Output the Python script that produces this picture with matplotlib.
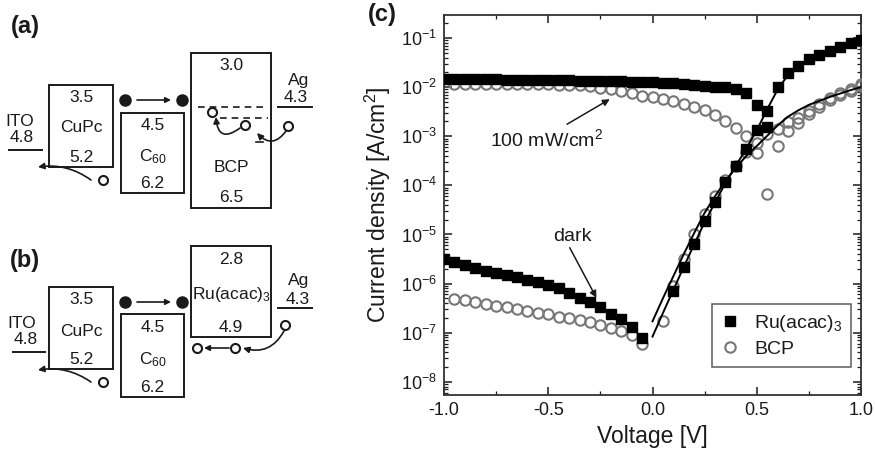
import numpy as np
import matplotlib
matplotlib.use("Agg")
import matplotlib.pyplot as plt
from matplotlib.patches import Rectangle, FancyArrowPatch
from matplotlib.lines import Line2D
from matplotlib.ticker import FixedLocator, NullFormatter

plt.rcParams['font.family'] = ['Liberation Sans', 'DejaVu Sans']
plt.rcParams['mathtext.fontset'] = 'custom'
plt.rcParams['mathtext.rm'] = 'Liberation Sans'
plt.rcParams['mathtext.it'] = 'Liberation Sans:italic'
plt.rcParams['mathtext.bf'] = 'Liberation Sans:bold'

# ---------------- data: panel (c) ----------------
# voltages (V) and log10 of current density (A/cm^2)
v_ru_light = [-1.00, -0.95, -0.90, -0.85, -0.80, -0.75, -0.70, -0.65, -0.60, -0.55,
              -0.50, -0.45, -0.40, -0.35, -0.30, -0.25, -0.20, -0.15, -0.10, -0.05,
              0.00, 0.05, 0.10, 0.15, 0.20, 0.25, 0.30, 0.35, 0.40, 0.45,
              0.50, 0.55, 0.60, 0.65, 0.70, 0.75, 0.80, 0.85, 0.90, 0.95, 1.00]
logj_ru_light = [-1.84, -1.84, -1.84, -1.84, -1.84, -1.84, -1.85, -1.85, -1.85, -1.85,
                 -1.86, -1.86, -1.86, -1.87, -1.87, -1.87, -1.88, -1.88, -1.89, -1.89,
                 -1.90, -1.91, -1.92, -1.94, -1.96, -1.97, -1.99, -2.00, -2.04, -2.12,
                 -2.36, -2.48, -1.99, -1.71, -1.56, -1.43, -1.35, -1.26, -1.18, -1.10, -1.04]

v_ru_dark = [-1.00, -0.95, -0.90, -0.85, -0.80, -0.75, -0.70, -0.65, -0.60, -0.55,
             -0.50, -0.45, -0.40, -0.35, -0.30, -0.25, -0.20, -0.15, -0.10, -0.05,
             0.10, 0.15, 0.20, 0.25, 0.30, 0.35, 0.40, 0.45, 0.50, 0.55]
logj_ru_dark = [-5.51, -5.57, -5.63, -5.69, -5.74, -5.78, -5.82, -5.86, -5.92, -5.97,
                -6.02, -6.10, -6.20, -6.29, -6.37, -6.48, -6.61, -6.72, -6.88, -7.11,
                -6.16, -5.67, -5.20, -4.72, -4.33, -3.94, -3.60, -3.25, -2.87, -2.81]

v_bcp_light = [-0.95, -0.90, -0.85, -0.80, -0.75, -0.70, -0.65, -0.60, -0.55,
               -0.50, -0.45, -0.40, -0.35, -0.30, -0.25, -0.20, -0.15, -0.10, -0.05,
               0.00, 0.05, 0.10, 0.15, 0.20, 0.25, 0.30, 0.35, 0.40, 0.45,
               0.50, 0.55, 0.60, 0.65, 0.70, 0.75, 0.80, 0.85, 0.90, 0.95, 1.00]
logj_bcp_light = [-1.94, -1.94, -1.94, -1.94, -1.94, -1.94, -1.94, -1.94, -1.94,
                  -1.94, -1.95, -1.95, -1.96, -1.98, -2.01, -2.04, -2.07, -2.11, -2.17,
                  -2.20, -2.24, -2.28, -2.34, -2.40, -2.47, -2.57, -2.69, -2.83, -3.00,
                  -3.13, -2.96, -2.86, -2.71, -2.62, -2.48, -2.35, -2.22, -2.12, -2.04, -1.94]

v_bcp_dark = [-0.95, -0.90, -0.85, -0.80, -0.75, -0.70, -0.65, -0.60, -0.55,
              -0.50, -0.45, -0.40, -0.35, -0.30, -0.25, -0.20, -0.15, -0.10, -0.05,
              0.05, 0.10, 0.15, 0.20, 0.25, 0.30, 0.35, 0.40, 0.45,
              0.50, 0.55, 0.60, 0.65, 0.70, 0.75, 0.80, 0.85, 0.90, 0.95, 1.00]
logj_bcp_dark = [-6.31, -6.33, -6.37, -6.41, -6.45, -6.48, -6.52, -6.56, -6.60,
                 -6.63, -6.68, -6.71, -6.74, -6.79, -6.85, -6.90, -6.97, -7.04, -7.24,
                 -6.76, -6.05, -5.51, -4.99, -4.59, -4.22, -3.89, -3.60, -3.32,
                 -3.35, -4.17, -3.20, -2.89, -2.72, -2.55, -2.40, -2.27, -2.16, -2.07, -1.98]

# fitted curves
v_fit = [0.00, 0.05, 0.10, 0.15, 0.20, 0.25, 0.30, 0.35, 0.40, 0.45, 0.50,
         0.55, 0.60, 0.65, 0.70, 0.75, 0.80, 0.85, 0.90, 0.95, 1.00]
logj_fit_ru = [-7.08, -6.60, -6.13, -5.66, -5.20, -4.75, -4.35, -3.95, -3.60, -3.25, -2.88,
               -2.45, -2.05, -1.75, -1.58, -1.45, -1.36, -1.27, -1.18, -1.10, -1.04]
logj_fit_bcp = [-6.77, -6.30, -5.85, -5.40, -4.97, -4.56, -4.22, -3.91, -3.64, -3.40, -3.20,
                -2.99, -2.78, -2.60, -2.47, -2.36, -2.28, -2.20, -2.13, -2.06, -2.00]

series_labels = ['Ru(acac)$_3$', 'BCP']
x_ticks = [-1.0, -0.5, 0.0, 0.5, 1.0]
x_ticklabels = ['-1.0', '-0.5', '0.0', '0.5', '1.0']
y_decades = [-8, -7, -6, -5, -4, -3, -2, -1]

# ---------------- data: panels (a), (b) ----------------
names_a = ['CuPc', 'C$_{60}$', 'BCP']
lumo_a = ['3.5', '4.5', '3.0']
homo_a = ['5.2', '6.2', '6.5']
names_b = ['CuPc', 'C$_{60}$', 'Ru(acac)$_3$']
lumo_b = ['3.5', '4.5', '2.8']
homo_b = ['5.2', '6.2', '4.9']
anode = ['ITO', '4.8']
cathode = ['Ag', '4.3']

# ---------------- figure ----------------
W, H = 875, 453
fig = plt.figure(figsize=(W / 100, H / 100), dpi=100)
ink = '#1a1a1a'
dfs = 12.5  # schematic font size

# overlay axis in pixel coordinates for the schematic panels
ax0 = fig.add_axes([0, 0, 1, 1])
ax0.set_xlim(0, W)
ax0.set_ylim(H, 0)
ax0.axis('off')

def box(x0, y0, x1, y1):
    ax0.add_patch(Rectangle((x0, y0), x1 - x0, y1 - y0, fill=False,
                            ec=ink, lw=1.4))

def txt(x, y, s, size=dfs, **kw):
    ax0.text(x, y, s, ha='center', va='center', fontsize=size, color=ink, **kw)

def arrow(p0, p1, rad=0.0, lw=1.2, ms=9):
    ax0.add_patch(FancyArrowPatch(p0, p1, arrowstyle='-|>', mutation_scale=ms,
                                  connectionstyle=f'arc3,rad={rad}', color=ink, lw=lw,
                                  shrinkA=0, shrinkB=0))

def hole(x, y):
    ax0.plot([x], [y], marker='o', ms=6.5, mfc='white', mec=ink, mew=1.5)

def electron(x, y):
    ax0.plot([x], [y], marker='o', ms=8, mfc=ink, mec=ink)

# ----- panel (a)
txt(25, 27, '(a)', size=17, fontweight='bold')
txt(20, 121, anode[0])
txt(22, 137, anode[1])
ax0.plot([9, 42], [150, 150], color=ink, lw=1.4)
box_a = [(49, 85, 113, 167), (121, 113, 184, 193), (191, 53, 271, 208)]
name_y_a = [128, 157, 167]
for (x0, y0, x1, y1), nm, lu, ho, ny in zip(box_a, names_a, lumo_a, homo_a, name_y_a):
    box(x0, y0, x1, y1)
    xc = (x0 + x1) / 2
    txt(xc, y0 + 13, lu)
    txt(xc, ny, nm)
    txt(xc, y1 - 10, ho)
electron(125, 100)
arrow((137, 100), (171, 100), ms=8)
electron(182, 100)
ax0.plot([198, 268], [107, 107], color=ink, lw=1.2, ls=(0, (4, 3)))
ax0.plot([220, 268], [118, 118], color=ink, lw=1.2, ls=(0, (4, 3)))
ax0.plot([256, 263], [142, 142], color=ink, lw=1.2)
hole(212, 112)
hole(245, 125)
arrow((240, 128), (216, 117), rad=-0.9)
hole(288, 126)
arrow((286, 131), (257, 133), rad=-0.6)
txt(299, 80, cathode[0])
txt(296, 97, cathode[1])
ax0.plot([278, 312], [107, 107], color=ink, lw=1.4)
hole(103, 180)
arrow((91, 180), (38, 167), rad=0.2)

# ----- panel (b)
txt(25, 260, '(b)', size=17, fontweight='bold')
txt(22, 324, anode[0])
txt(26, 340, anode[1])
ax0.plot([13, 45], [352, 352], color=ink, lw=1.4)
box_b = [(49, 287, 113, 369), (121, 314, 184, 397), (191, 246, 271, 337)]
name_y_b = [332, 360, 295]
for (x0, y0, x1, y1), nm, lu, ho, ny in zip(box_b, names_b, lumo_b, homo_b, name_y_b):
    box(x0, y0, x1, y1)
    xc = (x0 + x1) / 2
    txt(xc, y0 + 13, lu)
    txt(xc, ny, nm)
    txt(xc, y1 - 10, ho)
electron(125, 302)
arrow((137, 302), (171, 302), ms=8)
electron(182, 302)
txt(299, 280, cathode[0])
txt(298, 299, cathode[1])
ax0.plot([278, 312], [308, 308], color=ink, lw=1.4)
hole(285, 325)
arrow((284, 331), (243, 348), rad=-0.4)
hole(235, 348)
arrow((229, 348), (204, 348), ms=8)
hole(197, 348)
hole(103, 382)
arrow((91, 382), (38, 370), rad=0.2)

# ----- panel (c)
ax = fig.add_axes([444 / W, 1 - 395 / H, 417 / W, 380 / H])
txt(382, 15, '(c)', size=17, fontweight='bold')

ax.plot(v_ru_light, 10 ** np.array(logj_ru_light), 's', color='black', ms=6.5, zorder=4)
ax.plot(v_ru_dark, 10 ** np.array(logj_ru_dark), 's', color='black', ms=6.5, zorder=4)
circ_kw = dict(marker='o', ls='none', mfc='none', mec='#777777', mew=1.5, ms=7.5, zorder=3)
ax.plot(v_bcp_light, 10 ** np.array(logj_bcp_light), **circ_kw)
ax.plot(v_bcp_dark, 10 ** np.array(logj_bcp_dark), **circ_kw)
ax.plot(v_fit, 10 ** np.array(logj_fit_ru), color='black', lw=1.4, zorder=5)
ax.plot(v_fit, 10 ** np.array(logj_fit_bcp), color='black', lw=1.4, zorder=5)

ax.set_yscale('log')
ax.set_xlim(-1.0, 1.0)
ax.set_ylim(10 ** -8.27, 10 ** -0.53)
ax.set_xticks(x_ticks)
ax.set_xticklabels(x_ticklabels)
ax.xaxis.set_minor_locator(FixedLocator([-0.75, -0.25, 0.25, 0.75]))
ax.set_yticks([10.0 ** d for d in y_decades])
ax.set_yticklabels(['$10^{%d}$' % d for d in y_decades])
minors = [m * 10.0 ** d for d in range(-9, 0) for m in range(2, 10)]
ax.yaxis.set_minor_locator(FixedLocator(minors))
ax.yaxis.set_minor_formatter(NullFormatter())
ax.tick_params(which='both', direction='in', top=True, right=True, colors=ink,
               labelsize=13, labelcolor=ink)
ax.tick_params(which='major', length=6, width=1.1, pad=5)
ax.tick_params(which='minor', length=3, width=0.9)
for s in ax.spines.values():
    s.set_linewidth(1.3)
    s.set_color('#333333')

ax.set_xlabel('Voltage [V]', fontsize=16.5, color=ink, labelpad=4)
ax.set_ylabel('Current density [A/cm$^2$]', fontsize=16.5, color=ink, labelpad=6)

ax.annotate('', xy=(-0.205, 10 ** -2.245), xytext=(-0.41, 10 ** -2.755),
            arrowprops=dict(arrowstyle='-|>', color=ink, lw=1.1, mutation_scale=10,
                            shrinkA=0, shrinkB=0))
ax.text(-0.509, 10 ** -3.06, '100 mW/cm$^2$', ha='center', va='center',
        fontsize=14, color=ink)
ax.annotate('', xy=(-0.269, 10 ** -6.29), xytext=(-0.397, 10 ** -5.27),
            arrowprops=dict(arrowstyle='-|>', color=ink, lw=1.1, mutation_scale=10,
                            shrinkA=0, shrinkB=0))
ax.text(-0.382, 10 ** -5.04, 'dark', ha='center', va='center', fontsize=14, color=ink)

handles = [Line2D([], [], marker='s', ls='none', color='black', ms=6.5),
           Line2D([], [], **circ_kw)]
leg = ax.legend(handles, series_labels, loc='lower right',
                bbox_to_anchor=(0.976, 0.0745), fontsize=14, frameon=True,
                fancybox=False, edgecolor='#333333', handlelength=0.9,
                handletextpad=0.8, borderpad=0.45, labelspacing=0.35,
                borderaxespad=0)
leg.get_frame().set_linewidth(1.1)
for t in leg.get_texts():
    t.set_color(ink)

fig.savefig('out.png', dpi=100)
